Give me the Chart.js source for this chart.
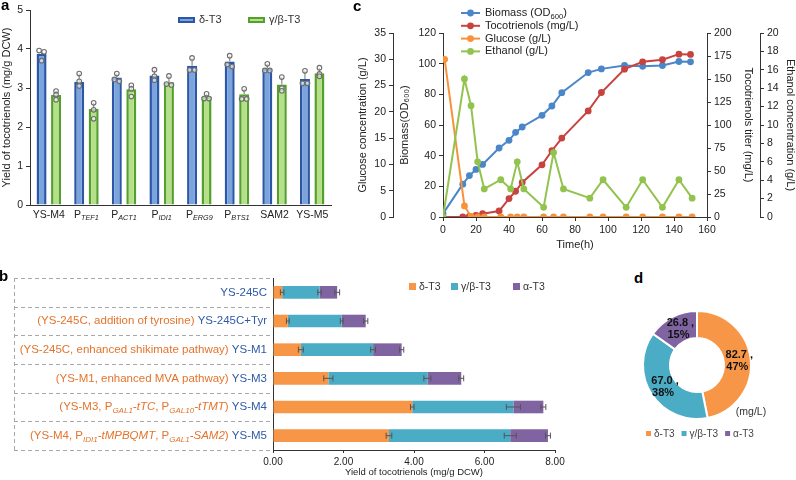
<!DOCTYPE html>
<html>
<head>
<meta charset="utf-8">
<script src="https://cdn.jsdelivr.net/npm/chart.js@4.4.1/dist/chart.umd.min.js"></script>
<style>
  html, body { margin: 0; padding: 0; background: #fff; overflow: hidden; }
  #wrap { position: relative; width: 796px; height: 480px; overflow: hidden; }
  canvas { position: absolute; }
  .tag { position: absolute; font: bold 15px "Liberation Sans", Arial, sans-serif; line-height: 15px; color: #000; }
</style>
</head>
<body>
<div id="wrap">
  <canvas id="chartA" width="340" height="232" style="left:0px;top:0px"></canvas>
  <canvas id="chartB" width="580" height="208" style="left:0px;top:272px"></canvas>
  <canvas id="chartC" width="470" height="262" style="left:340px;top:0px"></canvas>
  <canvas id="chartD" width="196" height="190" style="left:600px;top:290px"></canvas>
  <div class="tag" style="left:1px;top:-3px">a</div>
  <div class="tag" style="left:-1px;top:268px">b</div>
  <div class="tag" style="left:353px;top:-2px">c</div>
  <div class="tag" style="left:634px;top:270px">d</div>
</div>
<script>
// ---- panel a: promoter / SAM2 screening ----
const aLabels = ["YS-M4", "P_TEF1", "P_ACT1", "P_IDI1", "P_ERG9", "P_BTS1", "SAM2", "YS-M5"];
const aDelta = [3.87, 3.16, 3.27, 3.32, 3.57, 3.68, 3.50, 3.23];
const aGamma = [2.82, 2.46, 2.97, 3.15, 2.78, 2.84, 3.09, 3.38];
const aDeltaSd = [0.09, 0.21, 0.10, 0.15, 0.20, 0.15, 0.12, 0.21];
const aGammaSd = [0.10, 0.16, 0.10, 0.16, 0.07, 0.14, 0.19, 0.14];
const aDeltaPts = [[3.96, 3.93, 3.70], [3.37, 3.17, 3.05], [3.37, 3.22, 3.17], [3.47, 3.30, 3.20],
                   [3.77, 3.46, 3.46], [3.83, 3.60, 3.55], [3.62, 3.45, 3.45], [3.44, 3.12, 3.12]];
const aGammaPts = [[2.92, 2.83, 2.70], [2.62, 2.44, 2.21], [3.07, 2.98, 2.78], [3.31, 3.10, 3.08],
                   [2.85, 2.73, 2.73], [2.98, 2.72, 2.72], [3.28, 3.00, 2.93], [3.52, 3.36, 3.30]];

// ---- panel b: stepwise strain engineering ----
const bLabels = [
  [["b", "YS-245C"]],
  [["o", "(YS-245C, addition of tyrosine) "], ["b", "YS-245C+Tyr"]],
  [["o", "(YS-245C, enhanced shikimate pathway) "], ["b", "YS-M1"]],
  [["o", "(YS-M1, enhanced MVA pathway) "], ["b", "YS-M3"]],
  [["o", "(YS-M3, P"], ["s", "GAL1"], ["i", "-tTC"], ["o", ", P"], ["s", "GAL10"], ["i", "-tTMT"], ["o", ") "], ["b", "YS-M4"]],
  [["o", "(YS-M4, P"], ["s", "IDI1"], ["i", "-tMPBQMT"], ["o", ", P"], ["s", "GAL1"], ["i", "-SAM2"], ["o", ") "], ["b", "YS-M5"]]
];
const bDelta = [0.26, 0.42, 0.79, 1.57, 3.95, 3.29];
const bGamma = [1.06, 1.53, 2.05, 2.81, 2.87, 3.44];
const bAlpha = [0.50, 0.68, 0.81, 0.96, 0.85, 1.07];
const bDeltaErr = [0.05, 0.04, 0.07, 0.13, 0.05, 0.08];
const bGammaErr = [0.05, 0.04, 0.07, 0.10, 0.20, 0.17];
const bAlphaErr = [0.07, 0.06, 0.06, 0.07, 0.07, 0.07];
const bTicks = [0, 2, 4, 6, 8];

// ---- panel c: fed-batch fermentation ----
const cTime = [0, 12, 16, 20, 24, 34, 40, 44, 48, 60, 66, 72, 88, 96, 110, 121, 133, 143, 150];
const cBiomass = [2.2, 21.4, 27, 31, 34.3, 45, 50, 55.2, 58.7, 66.3, 72.4, 81.1, 94.2, 96.6, 98.8, 98.3, 98.8, 101.4, 101.2];
const cToco = [0, 0, 0.7, 1.8, 3.6, 6.5, 20, 28, 37.5, 56.7, 72, 85.8, 115.3, 135.3, 160.7, 168.7, 170.9, 177, 176.7];
const cSampleTime = [1, 13, 17, 21, 25, 35, 41, 45, 49, 61, 67, 73, 89, 97, 111, 121, 133, 143, 151];
const cGlucose = [30, 2.1, 0.1, 0, 0, 0, 0, 0, 0, 0, 0, 0, 0, 0, 0, 0, 0, 0, 0];
const cEthTime = [0, 13, 17, 21, 25, 35, 41, 45, 49, 61, 67, 73, 89, 97, 111, 121, 133, 143, 151];
const cEthanol = [0, 15.0, 12.1, 6.0, 3.05, 4.05, 3.05, 6.0, 3.05, 1.05, 7.0, 3.05, 2.05, 4.05, 1.05, 4.05, 1.05, 4.05, 2.05];

// ---- panel d: composition of YS-M5 tocotrienols (mg/L) ----
const dLabels = ["δ-T3", "γ/β-T3", "α-T3"];
const dValues = [82.7, 67.0, 26.8];

const FONT = '"Liberation Sans", Arial, Helvetica, sans-serif';
Chart.defaults.font.family = FONT;
Chart.defaults.color = "#222";
Chart.defaults.animation = false;
Chart.defaults.plugins.legend.display = false;
Chart.defaults.plugins.tooltip.enabled = false;

const ORANGE = "#f79646", TEAL = "#4bacc6", PURPLE = "#8064a2";
const TXT_OR = "#e4742c", TXT_BL = "#2e5aa8";

// rich text helpers (subscripts / italics)
function partFont(st, size) {
  if (st === "s") return `italic ${(size * 0.7).toFixed(1)}px ${FONT}`;
  if (st === "u") return `${(size * 0.7).toFixed(1)}px ${FONT}`;
  if (st === "i") return `italic ${size}px ${FONT}`;
  return `${size}px ${FONT}`;
}
function measureParts(ctx, parts, size) {
  let w = 0;
  for (const [st, t] of parts) { ctx.font = partFont(st, size); w += ctx.measureText(t).width; }
  return w;
}
function drawParts(ctx, parts, x, y, size, colors) {
  ctx.textAlign = "left";
  ctx.textBaseline = "middle";
  for (const [st, t] of parts) {
    ctx.font = partFont(st, size);
    ctx.fillStyle = colors[st] || colors.n;
    const sub = st === "s" || st === "u";
    ctx.fillText(t, x, sub ? y + size * 0.32 : y);
    x += ctx.measureText(t).width;
  }
}

// ================= Panel a =================
const aExtras = {
  id: "aExtras",
  afterDraw(chart) {
    const { ctx, scales: { x, y } } = chart;
    ctx.save();
    aLabels.forEach((lab, i) => {
      const bits = lab.split("_");
      const parts = bits.length > 1 ? [["n", bits[0]], ["s", bits[1]]] : [["n", lab]];
      const w = measureParts(ctx, parts, 10.5);
      drawParts(ctx, parts, x.getPixelForValue(i) - w / 2, 215, 10.5, { n: "#222" });
    });
    [[aDeltaSd, aDeltaPts], [aGammaSd, aGammaPts]].forEach(([sd, pts], di) => {
      const meta = chart.getDatasetMeta(di);
      const vals = chart.data.datasets[di].data;
      meta.data.forEach((bar, i) => {
        const top = y.getPixelForValue(vals[i] + sd[i]);
        ctx.strokeStyle = "#8a8a8a";
        ctx.lineWidth = 1.2;
        ctx.beginPath(); ctx.moveTo(bar.x, bar.y); ctx.lineTo(bar.x, top); ctx.stroke();
        pts[i].forEach((v, k) => {
          const near = pts[i].findIndex((u, j) => j !== k && Math.abs(u - v) < 0.06);
          const dx = near < 0 ? 0 : (near > k ? -2.5 : 2.5);
          ctx.beginPath();
          ctx.arc(bar.x + dx, y.getPixelForValue(v), 2.3, 0, Math.PI * 2);
          ctx.fillStyle = "rgba(255,255,255,0.55)";
          ctx.fill();
          ctx.strokeStyle = "#6e6e6e";
          ctx.lineWidth = 1.1;
          ctx.stroke();
        });
      });
    });
    // legend
    const items = [["δ-T3", "#2b57a6", "#7ba3dc", 178], ["γ/β-T3", "#54a02c", "#b6df8a", 248]];
    items.forEach(([label, dark, light, lx]) => {
      ctx.fillStyle = dark; ctx.fillRect(lx, 17, 17, 6);
      ctx.fillStyle = light; ctx.fillRect(lx + 2, 19, 13, 2);
      ctx.font = `11px ${FONT}`; ctx.fillStyle = "#333";
      ctx.textBaseline = "middle"; ctx.textAlign = "left";
      ctx.fillText(label, lx + 21, 20);
    });
    ctx.restore();
  }
};

new Chart(document.getElementById("chartA"), {
  type: "bar",
  data: {
    labels: aLabels,
    datasets: [
      { label: "δ-T3", data: aDelta, backgroundColor: "#7ba3dc", borderColor: "#2b57a6", borderWidth: 2.5 },
      { label: "γ/β-T3", data: aGamma, backgroundColor: "#b6df8a", borderColor: "#54a02c", borderWidth: 2.5 }
    ]
  },
  options: {
    responsive: false,
    categoryPercentage: 0.77,
    barPercentage: 0.69,
    layout: { padding: { top: 10, right: 9, left: 0, bottom: 0 } },
    scales: {
      x: {
        grid: { display: false },
        border: { color: "#333" },
        ticks: { display: false },
        afterFit: (s) => { s.height = 27; }
      },
      y: {
        min: 0, max: 5,
        ticks: { stepSize: 1, font: { size: 10.5 }, color: "#222", padding: 3 },
        grid: { drawOnChartArea: false, tickLength: 4, color: "#333" },
        border: { color: "#333" },
        title: { display: true, text: "Yield of tocotrienols (mg/g DCW)", font: { size: 11 }, color: "#222", padding: 0 },
        afterFit: (s) => { s.width = 30; }
      }
    }
  },
  plugins: [aExtras]
});

// ================= Panel b =================
const bExtras = {
  id: "bExtras",
  afterDraw(chart) {
    const { ctx, scales: { x, y }, chartArea } = chart;
    ctx.save();
    const step = Math.abs(y.getPixelForValue(1) - y.getPixelForValue(0));
    // dashed label boxes
    ctx.strokeStyle = "#a8a8a8";
    ctx.lineWidth = 1;
    ctx.setLineDash([4, 3]);
    for (let i = 0; i <= bLabels.length; i++) {
      const yy = Math.round(y.getPixelForValue(i) - step / 2) + 0.5;
      ctx.beginPath(); ctx.moveTo(14, yy); ctx.lineTo(chartArea.left, yy); ctx.stroke();
    }
    ctx.beginPath();
    ctx.moveTo(14.5, y.getPixelForValue(0) - step / 2);
    ctx.lineTo(14.5, y.getPixelForValue(bLabels.length - 1) + step / 2);
    ctx.stroke();
    ctx.setLineDash([]);
    // category labels
    bLabels.forEach((parts, i) => {
      const w = measureParts(ctx, parts, 11.5);
      drawParts(ctx, parts, chartArea.left - 6 - w, y.getPixelForValue(i), 11.5,
        { n: TXT_OR, o: TXT_OR, i: TXT_OR, s: TXT_OR, b: TXT_BL });
    });
    // error bars at each stacked segment end
    const sets = [[bDelta, bDeltaErr], [bGamma, bGammaErr], [bAlpha, bAlphaErr]];
    ctx.strokeStyle = "#555";
    ctx.lineWidth = 1;
    bLabels.forEach((_, i) => {
      let cum = 0;
      const yy = y.getPixelForValue(i);
      sets.forEach(([vals, err]) => {
        cum += vals[i];
        const x0 = x.getPixelForValue(cum - err[i]);
        const x1 = x.getPixelForValue(cum + err[i]);
        ctx.beginPath();
        ctx.moveTo(x0, yy); ctx.lineTo(x1, yy);
        ctx.moveTo(x0, yy - 3); ctx.lineTo(x0, yy + 3);
        ctx.moveTo(x1, yy - 3); ctx.lineTo(x1, yy + 3);
        ctx.stroke();
      });
    });
    // legend
    const leg = [["δ-T3", ORANGE], ["γ/β-T3", TEAL], ["α-T3", PURPLE]];
    let lx = 409;
    ctx.font = `10.5px ${FONT}`;
    ctx.textBaseline = "middle"; ctx.textAlign = "left";
    leg.forEach(([label, col]) => {
      ctx.fillStyle = col; ctx.fillRect(lx, 11, 7, 7);
      ctx.fillStyle = "#333"; ctx.fillText(label, lx + 10, 15);
      lx += label === "δ-T3" ? 42 : 62;
    });
    ctx.restore();
  }
};

new Chart(document.getElementById("chartB"), {
  type: "bar",
  data: {
    labels: bLabels.map((p) => p[p.length - 1][1]),
    datasets: [
      { label: "δ-T3", data: bDelta, backgroundColor: ORANGE },
      { label: "γ/β-T3", data: bGamma, backgroundColor: TEAL },
      { label: "α-T3", data: bAlpha, backgroundColor: PURPLE }
    ]
  },
  options: {
    responsive: false,
    indexAxis: "y",
    categoryPercentage: 1,
    barPercentage: 0.44,
    layout: { padding: { top: 6, right: 25, left: 0, bottom: 0 } },
    scales: {
      x: {
        stacked: true, min: 0, max: 8,
        afterBuildTicks: (s) => { s.ticks = bTicks.map((v) => ({ value: v })); },
        ticks: { callback: (v) => Number(v).toFixed(2), font: { size: 10 }, color: "#222", padding: 3, maxRotation: 0 },
        grid: { drawOnChartArea: false, tickLength: 3, color: "#333" },
        border: { color: "#333" },
        title: { display: true, text: "Yield of tocotrienols (mg/g DCW)", font: { size: 9.5 }, color: "#222", padding: { top: 0, bottom: 2 } },
        afterFit: (s) => { s.height = 30; }
      },
      y: {
        stacked: true,
        ticks: { display: false },
        grid: { display: false },
        border: { color: "#333" },
        afterFit: (s) => { s.width = 273; }
      }
    }
  },
  plugins: [bExtras]
});

// ================= Panel c =================
const BLUE = "#4a86c8", RED = "#c8423f", ORG = "#f7923a", GREEN = "#93c34f";
const cLegend = [
  [[["n", "Biomass (OD"], ["u", "600"], ["n", ")"]], BLUE],
  [[["n", "Tocotrienols (mg/L)"]], RED],
  [[["n", "Glucose (g/L)"]], ORG],
  [[["n", "Ethanol (g/L)"]], GREEN]
];
const cExtras = {
  id: "cExtras",
  afterDraw(chart) {
    const { ctx } = chart;
    ctx.save();
    cLegend.forEach(([parts, col], i) => {
      const yy = 13 + i * 12.8;
      ctx.strokeStyle = col; ctx.lineWidth = 2;
      ctx.beginPath(); ctx.moveTo(121, yy); ctx.lineTo(140, yy); ctx.stroke();
      ctx.fillStyle = col;
      ctx.beginPath(); ctx.arc(130.5, yy, 3.4, 0, Math.PI * 2); ctx.fill();
      drawParts(ctx, parts, 145, yy, 11, { n: "#222" });
    });
    ctx.restore();
  }
};

const axisBase = (min, max, step, pos, weight, width, title, tpad) => ({
  type: "linear", position: pos, weight, min, max,
  ticks: { stepSize: step, font: { size: 10.5 }, color: "#222", padding: 3 },
  grid: { drawOnChartArea: false, tickLength: 4, color: "#333" },
  border: { color: "#333" },
  title: { display: true, text: title, font: { size: 11 }, color: "#222", padding: { top: tpad, bottom: 0 } },
  afterFit: (s) => { s.width = width; }
});

const lineSet = (label, xs, ys, axis, col) => ({
  label, yAxisID: axis,
  data: xs.map((t, i) => ({ x: t, y: ys[i] })),
  borderColor: col, backgroundColor: col, borderWidth: 2,
  pointRadius: 3.4, pointBorderWidth: 0, pointBackgroundColor: col, tension: 0
});

new Chart(document.getElementById("chartC"), {
  type: "line",
  data: {
    datasets: [
      lineSet("Ethanol (g/L)", cEthTime, cEthanol, "yE", GREEN),
      lineSet("Glucose (g/L)", cSampleTime, cGlucose, "yG", ORG),
      lineSet("Tocotrienols (mg/L)", cTime, cToco, "yT", RED),
      lineSet("Biomass (OD600)", cTime, cBiomass, "yB", BLUE)
    ]
  },
  options: {
    responsive: false,
    layout: { padding: { top: 33, right: 0, left: 0, bottom: 0 } },
    scales: {
      x: {
        type: "linear", min: 0, max: 160,
        ticks: { stepSize: 20, font: { size: 10.5 }, color: "#222", padding: 3 },
        grid: { drawOnChartArea: false, tickLength: 4, color: "#333" },
        border: { color: "#333" },
        title: { display: true, text: "Time(h)", font: { size: 11 }, color: "#222", padding: { top: 0, bottom: 10 } },
        afterFit: (s) => { s.height = 45; }
      },
      yB: axisBase(0, 120, 20, "left", 0, 50, "Biomass(OD₆₀₀)", 5.4),
      yG: axisBase(0, 35, 5, "left", 1, 53, "Glucose concentration (g/L)", 16.4),
      yT: axisBase(0, 200, 25, "right", 0, 53, "Tocotrienols titer (mg/L)", 5.4),
      yE: axisBase(0, 20, 2, "right", 1, 50, "Ethanol concentration (g/L)", 13)
    }
  },
  plugins: [cExtras]
});

// ================= Panel d =================
const dExtras = {
  id: "dExtras",
  afterDraw(chart) {
    const { ctx } = chart;
    const total = dValues.reduce((a, b) => a + b, 0);
    ctx.save();
    ctx.textAlign = "center"; ctx.textBaseline = "middle";
    ctx.font = `bold 11px ${FONT}`;
    ctx.fillStyle = "#111";
    chart.getDatasetMeta(0).data.forEach((arc, i) => {
      const p = arc.tooltipPosition();
      ctx.fillText(dValues[i].toFixed(1) + " ,", p.x + 2, p.y - 6);
      ctx.fillText(Math.round(dValues[i] / total * 100) + "%", p.x, p.y + 6);
    });
    ctx.font = `10.5px ${FONT}`;
    ctx.fillStyle = "#333";
    ctx.fillText("(mg/L)", 151, 122);
    // legend
    const cols = [ORANGE, TEAL, PURPLE];
    let lx = 46;
    ctx.font = `10px ${FONT}`;
    ctx.textAlign = "left";
    dLabels.forEach((lab, i) => {
      ctx.fillStyle = cols[i]; ctx.fillRect(lx, 141, 5, 5);
      ctx.fillStyle = "#444"; ctx.fillText(lab, lx + 8, 144);
      lx += 8 + ctx.measureText(lab).width + 7;
    });
    ctx.restore();
  }
};

new Chart(document.getElementById("chartD"), {
  type: "doughnut",
  data: {
    labels: dLabels,
    datasets: [{ data: dValues, backgroundColor: [ORANGE, TEAL, PURPLE], borderColor: "#fff", borderWidth: 2 }]
  },
  options: {
    responsive: false,
    cutout: "50%",
    layout: { padding: { top: 20, bottom: 60, left: 42, right: 44 } }
  },
  plugins: [dExtras]
});
</script>
</body>
</html>
